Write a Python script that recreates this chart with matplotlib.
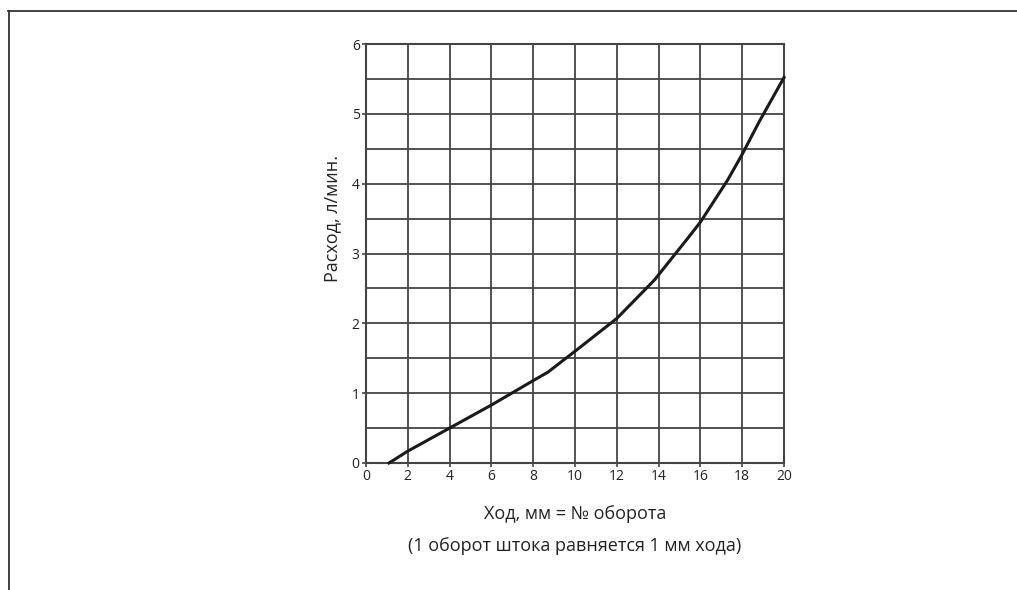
import numpy as np
import matplotlib.pyplot as plt
from matplotlib.lines import Line2D

# ход штока, мм  и  расход, л/мин
stroke = [1.1, 2, 4, 6, 8, 8.7, 10, 12, 13.8, 15.4, 16, 17.3, 18, 18.8, 20]
flow = [0.0, 0.17, 0.5, 0.83, 1.18, 1.3, 1.6, 2.07, 2.62, 3.22, 3.45, 4.05, 4.42, 4.88, 5.52]

x_ticks = list(range(0, 21, 2))
y_ticks = list(range(0, 7))

plt.rcParams['font.family'] = ['Open Sans', 'DejaVu Sans']
grid_color = '#444444'
text_color = '#222222'

fig = plt.figure(figsize=(10.17, 5.9), dpi=100)
ax = fig.add_axes([366 / 1017, 1 - 463 / 590, (784 - 366) / 1017, (463 - 44) / 590])

ax.set_xlim(0, 20)
ax.set_ylim(0, 6)
ax.set_xticks(x_ticks)
ax.set_yticks(y_ticks)
ax.set_yticks(np.arange(0, 6.01, 0.5), minor=True)
ax.tick_params(axis='both', which='major', labelsize=10, length=3, width=1.2,
               color=grid_color, pad=1.5, labelcolor=text_color)
ax.tick_params(axis='y', which='minor', length=0)

ax.grid(True, which='major', axis='x', color=grid_color, linewidth=1.3)
ax.grid(True, which='both', axis='y', color=grid_color, linewidth=1.3)
ax.set_axisbelow(True)
for s in ax.spines.values():
    s.set_color(grid_color)
    s.set_linewidth(1.5)

ax.plot(stroke, flow, color='#1a1a1a', linewidth=2.2, clip_on=False, zorder=3)

fig.text(332 / 1017, 1 - 218 / 590, 'Расход, л/мин.', rotation=90, ha='center', va='center',
         fontsize=13, color=text_color)
fig.text(575 / 1017, 1 - 514 / 590, 'Ход, мм = № оборота', ha='center', va='center',
         fontsize=13, color=text_color)
fig.text(575 / 1017, 1 - 546 / 590, '(1 оборот штока равняется 1 мм хода)', ha='center',
         va='center', fontsize=13, color=text_color)

# рамка сверху и слева
fig.add_artist(Line2D([8 / 1017, 1], [1 - 11 / 590, 1 - 11 / 590], color='#333333', linewidth=1.3))
fig.add_artist(Line2D([9 / 1017, 9 / 1017], [0, 1 - 11 / 590], color='#333333', linewidth=1.3))

fig.savefig('out.png', dpi=100)
